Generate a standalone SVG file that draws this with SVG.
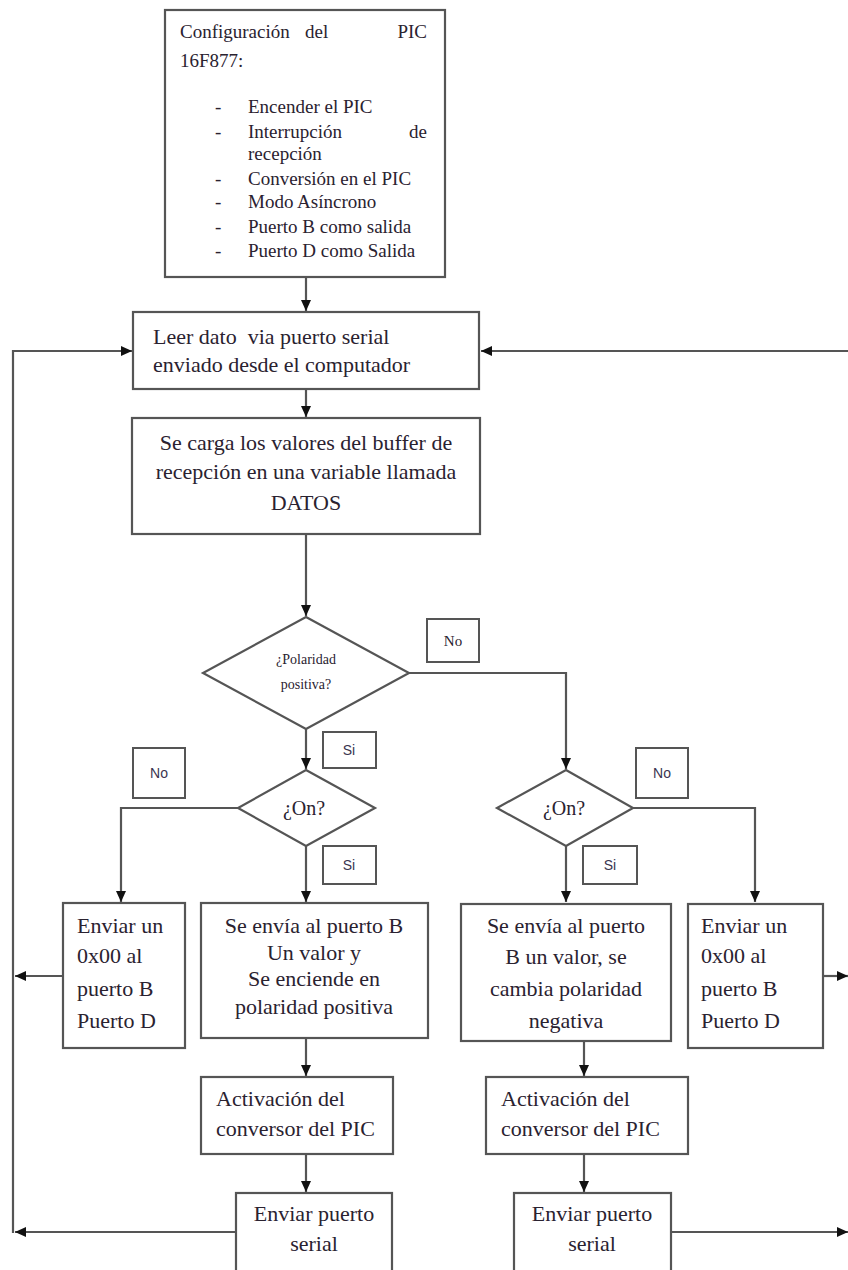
<svg xmlns="http://www.w3.org/2000/svg" width="848" height="1270" viewBox="0 0 848 1270" font-family="'Liberation Serif', 'Times New Roman', serif">
<style>
.box{fill:#fff;stroke:#555;stroke-width:2.2}
.lbl{fill:#fff;stroke:#555;stroke-width:2}
.ln{fill:none;stroke:#555;stroke-width:2.2}
text{font-family:'Liberation Serif','Times New Roman',serif;fill:#2a2230}
.s19{font-size:19px}
.s22{font-size:22px}
.m{text-anchor:middle}
.e{text-anchor:end}
text.sans{font-family:'Liberation Sans',Arial,sans-serif;font-size:14px;fill:#3a3550;text-anchor:middle}
</style>
<defs>
<marker id="ah" markerWidth="12" markerHeight="10" refX="11" refY="5" orient="auto" markerUnits="userSpaceOnUse">
<path d="M0,0 L11,5 L0,10 Z" fill="#111"/>
</marker>
</defs>
<rect width="848" height="1270" fill="#fff"/>

<g id="connectors">
<path class="ln" d="M306,277 V311" marker-end="url(#ah)"/>
<path class="ln" d="M306,389 V417" marker-end="url(#ah)"/>
<path class="ln" d="M306,534 V616" marker-end="url(#ah)"/>
<path class="ln" d="M306,729 V769" marker-end="url(#ah)"/>
<path class="ln" d="M409,673 H566 V769" marker-end="url(#ah)"/>
<path class="ln" d="M238,808 H121 V902" marker-end="url(#ah)"/>
<path class="ln" d="M306,846 V902" marker-end="url(#ah)"/>
<path class="ln" d="M566,846 V902" marker-end="url(#ah)"/>
<path class="ln" d="M633,808 H755 V902" marker-end="url(#ah)"/>
<path class="ln" d="M306,1038 V1076" marker-end="url(#ah)"/>
<path class="ln" d="M306,1154 V1192" marker-end="url(#ah)"/>
<path class="ln" d="M584,1041 V1076" marker-end="url(#ah)"/>
<path class="ln" d="M584,1154 V1192" marker-end="url(#ah)"/>
<path class="ln" d="M63,976 H15" marker-end="url(#ah)"/>
<path class="ln" d="M236,1232 H15" marker-end="url(#ah)"/>
<path class="ln" d="M13,1233 V351 H132" marker-end="url(#ah)"/>
<path class="ln" d="M848,351 H481" marker-end="url(#ah)"/>
<path class="ln" d="M823,976 H848" marker-end="url(#ah)"/>
<path class="ln" d="M671,1232 H848" marker-end="url(#ah)"/>
</g>

<g id="config">
<rect class="box" x="165" y="10" width="280" height="267"/>
<text class="s19" x="180" y="38">Configuración</text>
<text class="s19" x="305" y="38">del</text>
<text class="s19 e" x="427" y="38">PIC</text>
<text class="s19" x="180" y="67">16F877:</text>
<text class="s19" x="215" y="113">-</text><text class="s19" x="248" y="113">Encender el PIC</text>
<text class="s19" x="215" y="138">-</text><text class="s19" x="248" y="138">Interrupción</text><text class="s19 e" x="427" y="138">de</text>
<text class="s19" x="248" y="160">recepción</text>
<text class="s19" x="215" y="185">-</text><text class="s19" x="248" y="185">Conversión en el PIC</text>
<text class="s19" x="215" y="208">-</text><text class="s19" x="248" y="208">Modo Asíncrono</text>
<text class="s19" x="215" y="233">-</text><text class="s19" x="248" y="233">Puerto B como salida</text>
<text class="s19" x="215" y="257">-</text><text class="s19" x="248" y="257">Puerto D como Salida</text>
</g>

<g id="leer">
<rect class="box" x="133" y="312" width="346" height="77"/>
<text class="s22" x="153" y="344" xml:space="preserve">Leer dato  via puerto serial</text>
<text class="s22" x="153" y="372">enviado desde el computador</text>
</g>

<g id="buffer">
<rect class="box" x="132" y="418" width="348" height="116"/>
<text class="s22 m" x="306" y="450">Se carga los valores del buffer de</text>
<text class="s22 m" x="306" y="479">recepción en una variable llamada</text>
<text class="s22 m" x="306" y="510">DATOS</text>
</g>

<g id="polaridad">
<polygon class="box" points="306,617 409,673 306,729 203,673"/>
<text class="m" style="font-size:14px" x="306" y="664">¿Polaridad</text>
<text class="m" style="font-size:14px" x="306" y="689">positiva?</text>
</g>

<g id="label-no-1">
<rect class="lbl" x="427" y="619" width="52" height="43"/>
<text class="m" style="font-size:15px" x="453" y="646">No</text>
</g>
<g id="label-si-1">
<rect class="lbl" x="323" y="732" width="53" height="36"/>
<text class="sans" x="349" y="755">Si</text>
</g>

<g id="on-left">
<polygon class="box" points="306,770 375,808 306,846 238,808"/>
<text class="m" style="font-size:20px" x="304" y="815">¿On?</text>
</g>
<g id="label-no-2">
<rect class="lbl" x="133" y="748" width="52" height="50"/>
<text class="sans" x="159" y="778">No</text>
</g>
<g id="label-si-2">
<rect class="lbl" x="323" y="846" width="53" height="38"/>
<text class="sans" x="349" y="870">Si</text>
</g>

<g id="on-right">
<polygon class="box" points="566,770 633,808 566,846 497,808"/>
<text class="m" style="font-size:20px" x="564" y="815">¿On?</text>
</g>
<g id="label-no-3">
<rect class="lbl" x="636" y="748" width="52" height="50"/>
<text class="sans" x="662" y="778">No</text>
</g>
<g id="label-si-3">
<rect class="lbl" x="583" y="846" width="54" height="38"/>
<text class="sans" x="610" y="870">Si</text>
</g>

<g id="enviar-left">
<rect class="box" x="63" y="903" width="122" height="145"/>
<text class="s22" x="77" y="933">Enviar un</text>
<text class="s22" x="77" y="963">0x00 al</text>
<text class="s22" x="77" y="996">puerto B</text>
<text class="s22" x="77" y="1028">Puerto D</text>
</g>

<g id="envia-positiva">
<rect class="box" x="201" y="903" width="227" height="135"/>
<text class="s22 m" x="314" y="933">Se envía al puerto B</text>
<text class="s22 m" x="314" y="960">Un valor y</text>
<text class="s22 m" x="314" y="986">Se enciende en</text>
<text class="s22 m" x="314" y="1014">polaridad positiva</text>
</g>

<g id="envia-negativa">
<rect class="box" x="461" y="904" width="210" height="137"/>
<text class="s22 m" x="566" y="933">Se envía al puerto</text>
<text class="s22 m" x="566" y="964">B un valor, se</text>
<text class="s22 m" x="566" y="996">cambia polaridad</text>
<text class="s22 m" x="566" y="1028">negativa</text>
</g>

<g id="enviar-right">
<rect class="box" x="688" y="904" width="135" height="144"/>
<text class="s22" x="701" y="933">Enviar un</text>
<text class="s22" x="701" y="963">0x00 al</text>
<text class="s22" x="701" y="996">puerto B</text>
<text class="s22" x="701" y="1028">Puerto D</text>
</g>

<g id="activacion-left">
<rect class="box" x="201" y="1077" width="192" height="77"/>
<text class="s22" x="216" y="1106">Activación del</text>
<text class="s22" x="216" y="1136">conversor del PIC</text>
</g>

<g id="activacion-right">
<rect class="box" x="486" y="1077" width="202" height="77"/>
<text class="s22" x="501" y="1106">Activación del</text>
<text class="s22" x="501" y="1136">conversor del PIC</text>
</g>

<g id="serial-left">
<rect class="box" x="236" y="1193" width="156" height="90"/>
<text class="s22 m" x="314" y="1221">Enviar puerto</text>
<text class="s22 m" x="314" y="1251">serial</text>
</g>

<g id="serial-right">
<rect class="box" x="514" y="1193" width="157" height="90"/>
<text class="s22 m" x="592" y="1221">Enviar puerto</text>
<text class="s22 m" x="592" y="1251">serial</text>
</g>
</svg>
